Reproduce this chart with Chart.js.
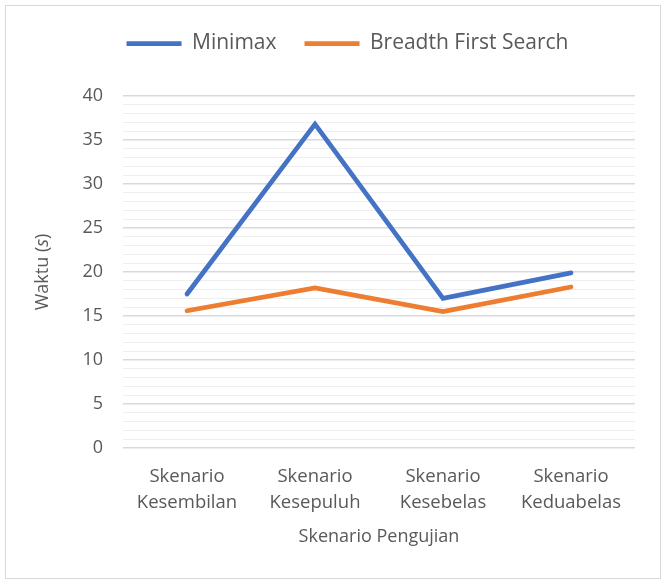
<!DOCTYPE html>
<html>
<head>
<meta charset="utf-8">
<script src="https://cdn.jsdelivr.net/npm/chart.js@4.4.1/dist/chart.umd.min.js"></script>
<style>
  html, body { margin: 0; padding: 0; background: #fff; }
  #wrap { position: relative; width: 667px; height: 581px; }
</style>
</head>
<body>
<div id="wrap"><canvas id="myLineChart" width="667" height="581"></canvas></div>
<script>
// data
const scenarios = [
  ["Skenario", "Kesembilan"],
  ["Skenario", "Kesepuluh"],
  ["Skenario", "Kesebelas"],
  ["Skenario", "Keduabelas"],
];
const minimax = [17.5, 36.8, 17.0, 19.9];
const bfs = [15.6, 18.2, 15.5, 18.3];
const yMax = 40;
const yStep = 1;      // minor grid step
const yLabelStep = 5; // labelled ticks

const textColor = "#595959";
const fontFamily = "'Open Sans', sans-serif";
const font = { family: fontFamily, size: 18 };

// outer frame like the office chart border
const frame = {
  id: "frame",
  afterDraw(chart) {
    const ctx = chart.ctx;
    ctx.save();
    ctx.strokeStyle = "#d9d9d9";
    ctx.lineWidth = 1;
    ctx.strokeRect(5.5, 5.5, 655, 573);
    ctx.restore();
  },
};

// more room under the legend, and nudge it right a bit
const legendSpace = {
  id: "legendSpace",
  beforeInit(chart) {
    const fit = chart.legend.fit;
    chart.legend.fit = function () {
      fit.bind(this)();
      this.height += 32;
    };
  },
  afterLayout(chart) {
    chart.legend.left += 27;
    chart.legend.right += 27;
  },
};

// y title "Waktu (s)" with the s in italics
const yTitle = {
  id: "yTitle",
  afterDraw(chart) {
    const ctx = chart.ctx;
    const area = chart.chartArea;
    const parts = [
      ["Waktu (", "normal"],
      ["s", "italic"],
      [")", "normal"],
    ];
    ctx.save();
    ctx.fillStyle = textColor;
    ctx.textBaseline = "middle";
    ctx.textAlign = "left";
    let total = 0;
    parts.forEach((p) => {
      ctx.font = p[1] + " 18px " + fontFamily;
      total += ctx.measureText(p[0]).width;
    });
    ctx.translate(43, (area.top + area.bottom) / 2);
    ctx.rotate(-Math.PI / 2);
    let x = -total / 2;
    parts.forEach((p) => {
      ctx.font = p[1] + " 18px " + fontFamily;
      ctx.fillText(p[0], x, 0);
      x += ctx.measureText(p[0]).width;
    });
    ctx.restore();
  },
};

const lineChart = document.getElementById("myLineChart").getContext("2d");
const myLineChart = new Chart(lineChart, {
  type: "line",
  data: {
    labels: scenarios,
    datasets: [
      {
        label: "Minimax",
        data: minimax,
        borderColor: "#4472C4",
        backgroundColor: "#4472C4",
        borderWidth: 4.75,
        borderCapStyle: "round",
        pointStyle: "line",
        fill: false,
      },
      {
        label: "Breadth First Search",
        data: bfs,
        borderColor: "#ED7D31",
        backgroundColor: "#ED7D31",
        borderWidth: 4.75,
        borderCapStyle: "round",
        pointStyle: "line",
        fill: false,
      },
    ],
  },
  plugins: [frame, legendSpace, yTitle],
  options: {
    responsive: false,
    animation: false,
    layout: {
      padding: { top: 5, left: 6, right: 32, bottom: 33 },
    },
    elements: {
      point: { radius: 0, hoverRadius: 0 },
      line: { tension: 0 },
    },
    scales: {
      y: {
        min: 0,
        max: yMax,
        border: { display: false },
        afterFit(scale) {
          scale.width = 117;
        },
        ticks: {
          stepSize: yStep,
          autoSkip: false,
          padding: 20,
          color: textColor,
          font: font,
          callback: (v) => (v % yLabelStep === 0 ? v : ""),
        },
        grid: {
          drawTicks: false,
          color: (c) => (c.tick.value % yLabelStep === 0 ? "#d9d9d9" : "#eeeeee"),
          lineWidth: (c) => (c.tick.value % yLabelStep === 0 ? 1.5 : 1),
        },
        title: { display: false },
      },
      x: {
        offset: true,
        border: { display: false },
        afterFit(scale) {
          scale.height = 100;
        },
        grid: { display: false, drawTicks: false, offset: true },
        ticks: {
          color: textColor,
          font: { ...font, size: 18.5, lineHeight: 1.4 },
          padding: 16,
          maxRotation: 0,
        },
        title: {
          display: true,
          text: "Skenario Pengujian",
          color: textColor,
          font: font,
          padding: { top: 0, bottom: 0 },
        },
      },
    },
    plugins: {
      tooltip: { enabled: false },
      legend: {
        position: "top",
        labels: {
          color: textColor,
          usePointStyle: true,
          pointStyleWidth: 55,
          boxWidth: 55,
          boxHeight: 6,
          padding: 28,
          font: { family: fontFamily, size: 21 },
        },
      },
    },
  },
});
</script>
</body>
</html>
